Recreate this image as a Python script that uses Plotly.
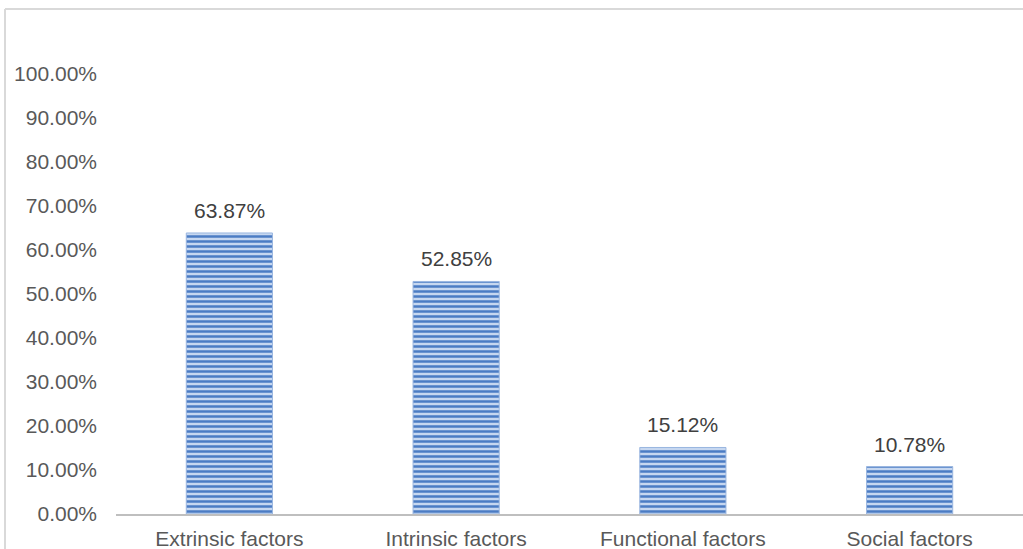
import plotly.graph_objects as go

categories = ["Extrinsic factors", "Intrinsic factors", "Functional factors", "Social factors"]
shares = [63.87, 52.85, 15.12, 10.78]
y_ticks = [0, 10, 20, 30, 40, 50, 60, 70, 80, 90, 100]

FONT = "Liberation Sans, Arial, sans-serif"
FS = 21
W, H = 1023, 549
M_L, M_R, M_T, M_B = 116, 0, 74, 35
plot_w = W - M_L - M_R
plot_h = H - M_T - M_B

fig = go.Figure()
fig.add_trace(go.Bar(
    x=categories,
    y=shares,
    width=0.38,
    marker=dict(
        color="#8cabdc",
        line=dict(color="#9ab6e0", width=1),
        pattern=dict(shape="-", fgcolor="#4b7cc4", bgcolor="#c6d7f0",
                     fgopacity=1, size=5, solidity=0.5),
    ),
    hoverinfo="skip",
))

# value labels above each bar
for c, v in zip(categories, shares):
    fig.add_annotation(x=c, y=v, text=f"{v:.2f}%", showarrow=False,
                       yanchor="bottom", yshift=9,
                       font=dict(family=FONT, size=FS, color="#404040"))

# chart-area frame (top and left edges)
fx0 = (5 - M_L) / plot_w
fy0 = (H - M_B - 9) / plot_h
fig.add_shape(type="line", xref="paper", yref="paper", x0=fx0, x1=1.02,
              y0=fy0, y1=fy0, line=dict(color="#d9d9d9", width=2))
fig.add_shape(type="line", xref="paper", yref="paper", x0=fx0, x1=fx0,
              y0=fy0, y1=-0.2, line=dict(color="#d9d9d9", width=2))

fig.update_layout(
    width=W, height=H,
    margin=dict(l=M_L, r=M_R, t=M_T, b=M_B, pad=0),
    paper_bgcolor="white", plot_bgcolor="white",
    showlegend=False,
    font=dict(family=FONT, size=FS, color="#595959"),
    xaxis=dict(range=[-0.5, 3.5], showline=True, linecolor="#bfbfbf",
               linewidth=2, showgrid=False, zeroline=False, ticks="",
               ticklabelstandoff=5,
               tickfont=dict(family=FONT, size=FS, color="#595959")),
    yaxis=dict(range=[0, 100], tickvals=y_ticks,
               ticktext=[f"{t:.2f}%" for t in y_ticks],
               showgrid=False, zeroline=False, showline=False, ticks="",
               ticklabelstandoff=18,
               tickfont=dict(family=FONT, size=FS, color="#595959")),
)

fig.write_html("out.html")
